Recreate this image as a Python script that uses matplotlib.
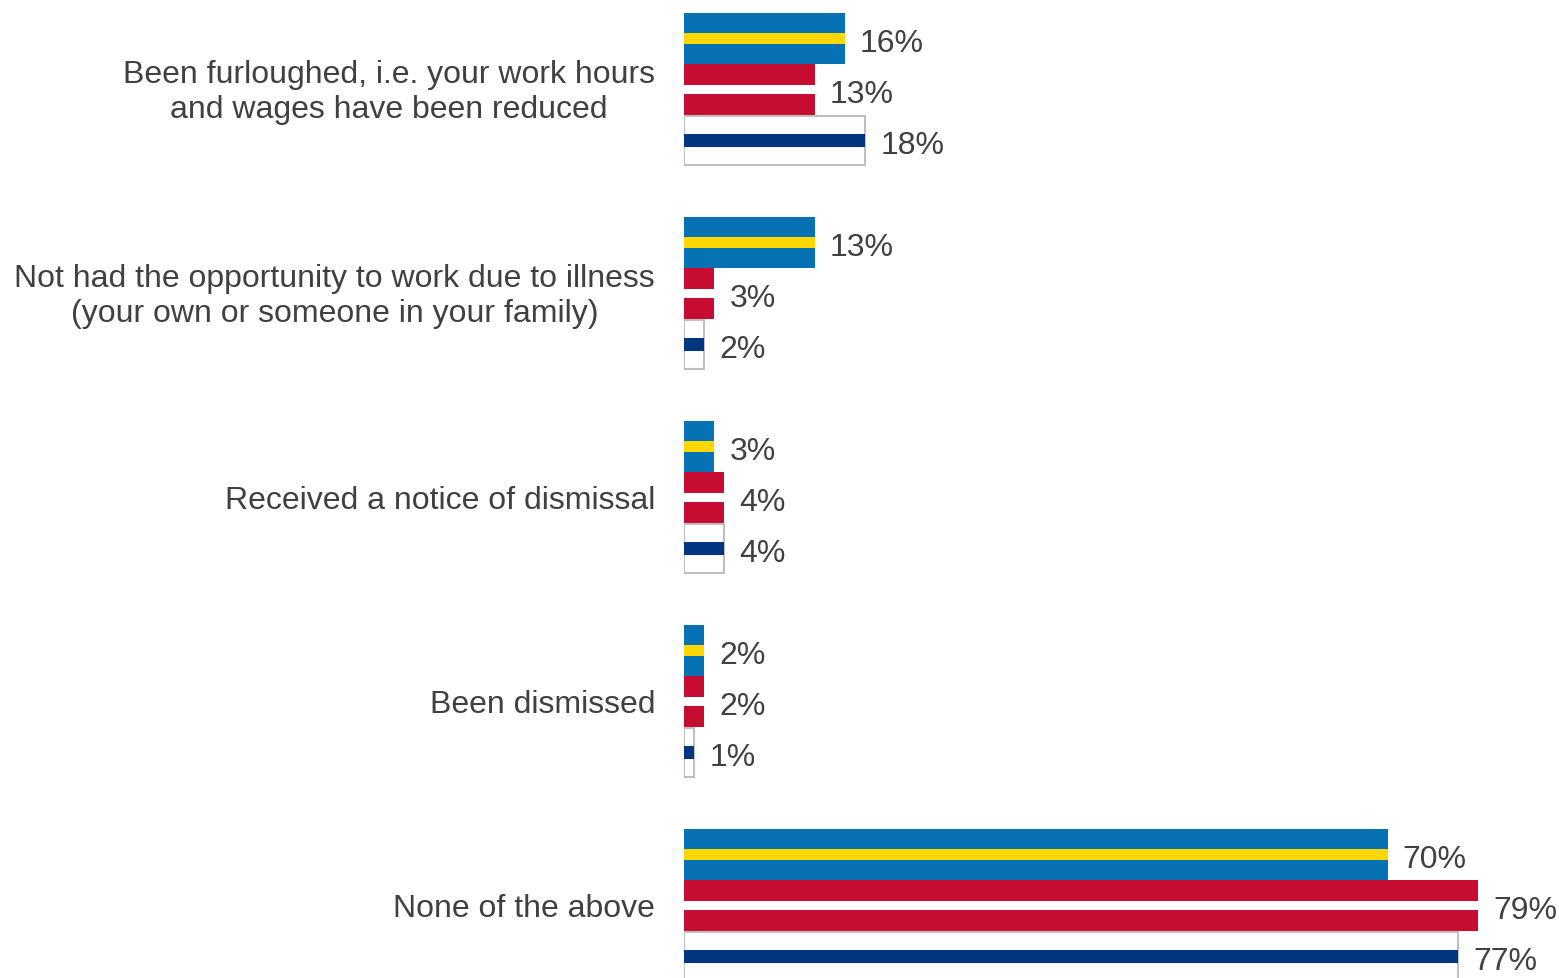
import matplotlib.pyplot as plt
from matplotlib import transforms

plt.rcParams['font.family'] = ['Liberation Sans', 'DejaVu Sans']

categories = [
    "Been furloughed, i.e. your work hours\nand wages have been reduced",
    "Not had the opportunity to work due to illness\n(your own or someone in your family)",
    "Received a notice of dismissal",
    "Been dismissed",
    "None of the above",
]
sweden = [16, 13, 3, 2, 70]
denmark = [13, 3, 4, 2, 79]
finland = [18, 2, 4, 1, 77]

TEXT = "#404040"
SE_BLUE, SE_YELLOW = "#0672B4", "#FFD700"
DK_RED = "#C60C30"
FI_BLUE, FI_EDGE = "#003580", "#BFBFBF"

fig = plt.figure(figsize=(15.59, 9.79), dpi=100)
ax = fig.add_axes([684 / 1559, 0, 875 / 1559, 1])

for i, cat in enumerate(categories):
    base = 4 * i
    # Sweden: blue bar with a yellow stripe
    ax.barh(base, sweden[i], height=1.0, color=SE_BLUE, linewidth=0)
    ax.barh(base, sweden[i], height=0.2, color=SE_YELLOW, linewidth=0)
    # Denmark: red bar with a white stripe
    ax.barh(base + 1, denmark[i], height=1.0, color=DK_RED, linewidth=0)
    ax.barh(base + 1, denmark[i], height=0.16, color="white", linewidth=0)
    # Finland: white bar, grey outline, blue stripe
    ax.barh(base + 2, finland[i], height=0.98, color="white",
            edgecolor=FI_EDGE, linewidth=1.5)
    ax.barh(base + 2, finland[i], height=0.27, color=FI_BLUE, linewidth=0)

    for j, v in enumerate([sweden[i], denmark[i], finland[i]]):
        ax.annotate(f"{v}%", (v, base + j), xytext=(11, -1),
                    textcoords="offset points", va="center_baseline",
                    ha="left", fontsize=23, color=TEXT, annotation_clip=False)

trans = transforms.blended_transform_factory(ax.transAxes, ax.transData)
for i, cat in enumerate(categories):
    ax.text(-29 / 875, 4 * i + 1.04, cat, transform=trans, ha="right",
            va="center", multialignment="center", fontsize=23,
            color=TEXT, linespacing=1.25)

ax.set_xlim(0, 875 / 10.05)
ax.set_ylim(-0.5 - 14 / 51 + 979 / 51, -0.5 - 14 / 51)
ax.axis("off")

fig.savefig("out.png", dpi=100)
